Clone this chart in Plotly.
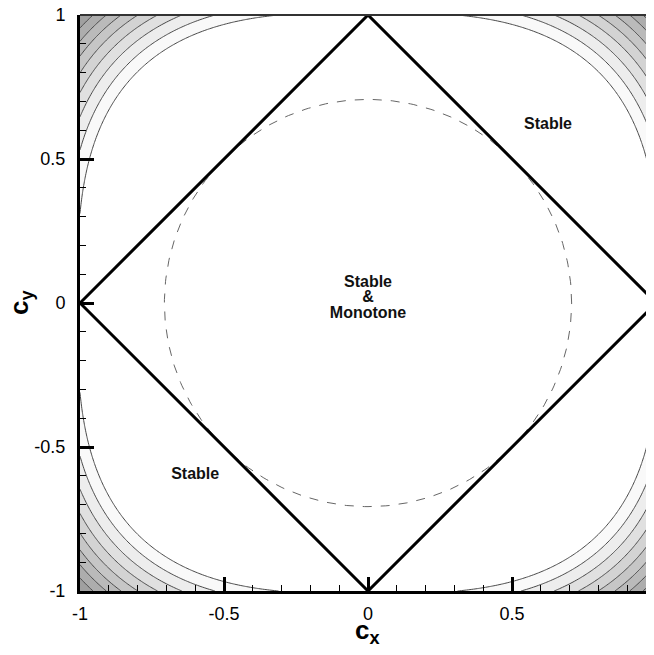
import numpy as np
import plotly.graph_objects as go

# grid of Courant numbers
cx_vals = np.linspace(-1, 1, 241)
cy_vals = np.linspace(-1, 1, 241)
shape_power = 3.0  # corner contours look like |cx|^3 + |cy|^3 = level

# contour levels
level_start = 1.03
level_step = 0.12
level_end = 1.87

# stability diamond |cx| + |cy| = 1
diamond_x = [-1, 0, 1, 0, -1]
diamond_y = [0, 1, 0, -1, 0]
circle_r = 0.707

tick_vals = [-1, -0.5, 0, 0.5, 1]
tick_text = ['-1', '-0.5', '0', '0.5', '1']

region_labels = ['Stable', 'Stable', 'Stable', '&', 'Monotone']
region_x = [0.625, -0.60, 0.0, 0.0, 0.0]
region_y = [0.618, -0.597, 0.071, 0.017, -0.037]

CX, CY = np.meshgrid(cx_vals, cy_vals)
Z = np.abs(CX) ** shape_power + np.abs(CY) ** shape_power

theta = np.linspace(0, 2 * np.pi, 361)

fig = go.Figure()
fig.add_trace(go.Contour(
    x=cx_vals, y=cy_vals, z=Z,
    contours=dict(start=level_start, end=level_end, size=level_step, coloring='fill'),
    colorscale=[[0, '#ffffff'], [0.1, '#fcfcfc'], [1, '#a0a0a0']],
    zmin=1.0, zmax=2.0,
    line=dict(color='#4a4a4a', width=1),
    showscale=False, hoverinfo='skip'
))
fig.add_trace(go.Scatter(
    x=circle_r * np.cos(theta), y=circle_r * np.sin(theta),
    mode='lines', line=dict(color='#666666', width=1, dash='dash'),
    showlegend=False, hoverinfo='skip'
))
fig.add_trace(go.Scatter(
    x=diamond_x, y=diamond_y, mode='lines',
    line=dict(color='black', width=3),
    showlegend=False, hoverinfo='skip'
))
fig.add_trace(go.Scatter(
    x=region_x, y=region_y, mode='text', text=region_labels,
    textfont=dict(family='Liberation Sans, Arial', size=16, color='#111111'),
    texttemplate='<b>%{text}</b>',
    showlegend=False, hoverinfo='skip'
))

# thin top frame
fig.add_shape(type='line', xref='paper', yref='paper', x0=0, x1=1, y0=1, y1=1,
              line=dict(color='#333333', width=2))

title_font = dict(family='Liberation Sans, Arial', size=26, color='black')
fig.add_annotation(x=0.5, y=-0.071, xref='paper', yref='paper', showarrow=False,
                   text='<b>c<sub>x</sub></b>', font=title_font, yanchor='middle')
fig.add_annotation(x=-0.1045, y=0.5, xref='paper', yref='paper', showarrow=False,
                   text='<b>c<sub>y</sub></b>', font=title_font, textangle=-90,
                   xanchor='center', yanchor='middle')

axis_font = dict(family='Liberation Sans, Arial', size=18, color='black')
fig.update_layout(
    width=646, height=640,
    margin=dict(l=72, r=0, t=7, b=57, autoexpand=False),
    paper_bgcolor='white', plot_bgcolor='white',
    showlegend=False,
    xaxis=dict(range=[-1, 0.993], tickvals=tick_vals, ticktext=tick_text, automargin=False,
               ticks='inside', ticklen=14, tickwidth=2.5, tickcolor='black',
               minor=dict(ticks='inside', dtick=0.1, ticklen=6, tickwidth=1, tickcolor='black'),
               showline=True, linecolor='black', linewidth=3, showgrid=False, zeroline=False,
               tickfont=axis_font, ticklabelstandoff=4, ticklabeloverflow='allow'),
    yaxis=dict(range=[-1, 1], tickvals=tick_vals, ticktext=tick_text, automargin=False,
               ticks='inside', ticklen=14, tickwidth=2.5, tickcolor='black',
               minor=dict(ticks='inside', dtick=0.1, ticklen=6, tickwidth=1, tickcolor='black'),
               showline=True, linecolor='black', linewidth=3, showgrid=False, zeroline=False,
               tickfont=axis_font, ticklabelstandoff=8, ticklabeloverflow='allow'),
)

fig.write_html("out.html")
